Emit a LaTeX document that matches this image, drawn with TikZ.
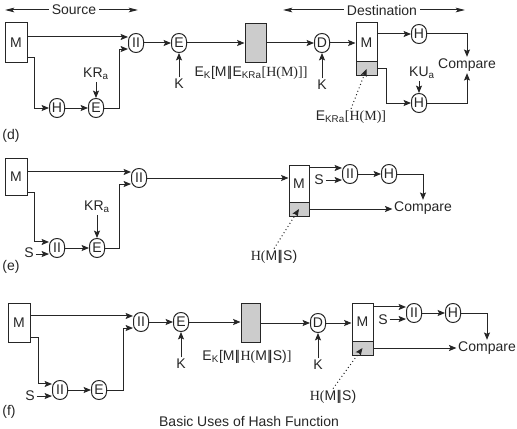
\documentclass[tikz,border=0pt]{standalone}
\usepackage{fontspec}
\setmainfont{Liberation Sans}
\newfontfamily\tms{Liberation Serif}
\usetikzlibrary{arrows.meta}
\newcommand{\dbar}{\kern0.3pt|\kern-1.6pt|\kern0.3pt}

\tikzset{every picture/.style={line width=0.75pt}}
\tikzset{
  opnode/.style={draw, rounded corners=5.5pt, minimum width=11.25pt, minimum height=14.25pt, inner sep=0pt},
  msgbox/.style={draw, inner sep=0pt, minimum width=16.5pt},
  lbl/.style={inner sep=1pt},
  arr/.style={-{Stealth[length=5.5pt,width=4.5pt,inset=1pt]}},
  spanarr/.style={-{Stealth[length=7pt,width=3.5pt,inset=1.5pt]}}
}

\begin{document}
\begin{tikzpicture}[x=0.75pt,y=0.75pt,yscale=-1,xscale=1,color=black!85,font=\fontsize{10.5}{12}\selectfont]
\useasboundingbox (0,0) rectangle (517,428);

% Source / Destination
\node[inner sep=2pt] (srct) at (74,10) {Source};
\coordinate (srcl) at (5,10);
\coordinate (srcr) at (138,10);
\draw[spanarr] (srct) -- (srcl);
\draw[spanarr] (srct) -- (srcr);
\node[inner sep=2pt] (dstt) at (382,10) {Destination};
\coordinate (dstl) at (283,10);
\coordinate (dstr) at (465,10);
\draw[spanarr] (dstt) -- (dstl);
\draw[spanarr] (dstt) -- (dstr);

%% (d)
%Shape: Rectangle
\node[msgbox, minimum height=30pt] (Md) at (16,43) {M};
\node[opnode] (Hd) at (57,108) {H};
\node[opnode] (Ed) at (96,108) {E};
\node[lbl] (KRd) at (96,74) {KR\textsubscript{a}};
\node[opnode] (catd) at (136,43) {II};
\node[opnode] (EKd) at (179,43) {E};
\node[lbl] (Kd) at (179,84) {K};
%Shape: Rectangle
\node[msgbox, fill=black!20, minimum width=15.75pt, minimum height=29.25pt] (Gd) at (255.5,43.5) {};
\node[lbl] (Ld) at (251,73) {E\textsubscript{K}[M\dbar E\textsubscript{KRa}{\tms[H(M)]]}};
\node[opnode] (Dd) at (322,43) {D};
\node[lbl] (Kd2) at (322,85) {K};
%Shape: Rectangle
\node[msgbox, minimum width=15.75pt, minimum height=29.25pt] (MDd) at (366.5,42.5) {M};
\node[msgbox, fill=black!20, minimum width=15.75pt, minimum height=10.5pt] (SGd) at (366.5,69) {};
\node[opnode] (H1d) at (419,34) {H};
\node[opnode] (H2d) at (419,103) {H};
\node[lbl] (KUd) at (422,73) {KU\textsubscript{a}};
\node[lbl] (Cd) at (467,65) {Compare};
\node[lbl] (Sgd) at (351,117) {E\textsubscript{KRa}{\tms[H(M)]}};
% Text Node
\node (capd) at (11,136) {(d)};

%Straight Lines
\draw[arr] (Md.east |- catd.143) -- (catd.143);
\draw[arr] (Md.-52) -- ++(7,0) |- (Hd.west);
\draw[arr] (Hd) -- (Ed);
\draw[arr] (Ed.north |- KRd.south) -- (Ed.north);
\draw[arr] (Ed.east) -- ++(15,0) |- (catd.217);
\draw[arr] (catd) -- (EKd);
\draw[arr] (Kd) -- (EKd);
\draw[arr] (EKd.east) -- (Gd.west |- EKd.east);
\draw[arr] (Gd.east |- Dd.west) -- (Dd.west);
\draw[arr] (Kd2) -- (Dd);
\draw[arr] (Dd.east) -- (MDd.west |- Dd.east);
\draw[arr] (MDd.east |- H1d.west) -- (H1d.west);
\draw[arr] (H1d.east) -| (Cd.north);
\draw[arr] (SGd.east) -- ++(9,0) |- (H2d.west);
\draw[arr] (H2d.north |- KUd.south) -- (H2d.north);
\draw[arr] (H2d.east) -| (Cd.south);
\draw[arr, dotted] (Sgd.north) -- (SGd.center);

%% (e)
%Shape: Rectangle
\node[msgbox, minimum height=27.75pt] (Me) at (16,176.5) {M};
\node[opnode] (c2e) at (57,248) {II};
\node[lbl] (Se) at (29,253) {S};
\node[opnode] (Ee) at (97,248) {E};
\node[lbl] (KRe) at (97,207) {KR\textsubscript{a}};
\node[opnode] (cate) at (139,178) {II};
%Shape: Rectangle
\node[msgbox, minimum width=15pt, minimum height=27.75pt] (MDe) at (299,183.5) {M};
\node[msgbox, fill=black!20, minimum width=15pt, minimum height=10.5pt] (SGe) at (299,209) {};
\node[opnode] (c3e) at (350,174) {II};
\node[lbl] (Se2) at (319,180) {S};
\node[opnode] (He) at (389,174) {H};
\node[lbl] (Ce) at (423,208) {Compare};
\node[lbl] (Sge) at (274,257) {{\tms H(}M\dbar S)};
% Text Node
\node (cape) at (11,267) {(e)};

%Straight Lines
\draw[arr] (Me.east |- cate.143) -- (cate.143);
\draw[arr] (Me.-55) -- ++(7,0) |- (c2e.143);
\draw[arr] (Se.east |- c2e.217) -- (c2e.217);
\draw[arr] (c2e) -- (Ee);
\draw[arr] (Ee.north |- KRe.south) -- (Ee.north);
\draw[arr] (Ee.east) -- ++(14.5,0) |- (cate.217);
\draw[arr] (cate.east) -- (MDe.west |- cate.east);
\draw[arr] (MDe.east |- c3e.143) -- (c3e.143);
\draw[arr] (Se2.east |- c3e.217) -- (c3e.217);
\draw[arr] (c3e) -- (He);
\draw[arr] (He.east) -| (Ce.north);
\draw[arr] (SGe.east) -- (Ce.west |- SGe.east);
\draw[arr, dotted] (Sge.north) -- (SGe.center);

%% (f)
%Shape: Rectangle
\node[msgbox, minimum height=29.25pt] (Mf) at (19,322.5) {M};
\node[opnode] (catf) at (141,322) {II};
\node[opnode] (c2f) at (60,390) {II};
\node[lbl] (Sf) at (30,396) {S};
\node[opnode] (Ef) at (99,390) {E};
\node[opnode] (EKf) at (181,322) {E};
\node[lbl] (Kf) at (181,364) {K};
%Shape: Rectangle
\node[msgbox, fill=black!20, minimum width=14.25pt, minimum height=29.25pt] (Gf) at (250.5,322.5) {};
\node[lbl] (Lf) at (247,357) {E\textsubscript{K}[M\dbar{\tms H(}M\dbar S){\tms ]}};
\node[opnode] (Df) at (318,323) {D};
\node[lbl] (Kf2) at (318,365) {K};
%Shape: Rectangle
\node[msgbox, minimum width=15.75pt, minimum height=28.5pt] (MDf) at (362.5,322) {M};
\node[msgbox, fill=black!20, minimum width=15.75pt, minimum height=10.5pt] (SGf) at (362.5,348) {};
\node[opnode] (c3f) at (414,313) {II};
\node[lbl] (Sf2) at (383,320) {S};
\node[opnode] (Hf) at (453,313) {H};
\node[lbl] (Cf) at (487,348) {Compare};
\node[lbl] (Sgf) at (333,397) {{\tms H(}M\dbar S)};
% Text Node
\node (capf) at (9,412) {(f)};
\node (cap) at (249,421) {Basic Uses of Hash Function};

%Straight Lines
\draw[arr] (Mf.east |- catf.143) -- (catf.143);
\draw[arr] (Mf.-52) -- ++(8,0) |- (c2f.143);
\draw[arr] (Sf.east |- c2f.217) -- (c2f.217);
\draw[arr] (c2f) -- (Ef);
\draw[arr] (Ef.east) -- ++(16,0) |- (catf.217);
\draw[arr] (catf) -- (EKf);
\draw[arr] (Kf) -- (EKf);
\draw[arr] (EKf.east) -- (Gf.west |- EKf.east);
\draw[arr] (Gf.east |- Df.west) -- (Df.west);
\draw[arr] (Kf2) -- (Df);
\draw[arr] (Df.east) -- (MDf.west |- Df.east);
\draw[arr] (MDf.east |- c3f.143) -- (c3f.143);
\draw[arr] (Sf2.east |- c3f.217) -- (c3f.217);
\draw[arr] (c3f) -- (Hf);
\draw[arr] (Hf.east) -| (Cf.north);
\draw[arr] (SGf.east) -- (Cf.west |- SGf.east);
\draw[arr, dotted] (Sgf.north) -- (SGf.center);

\end{tikzpicture}
\end{document}
